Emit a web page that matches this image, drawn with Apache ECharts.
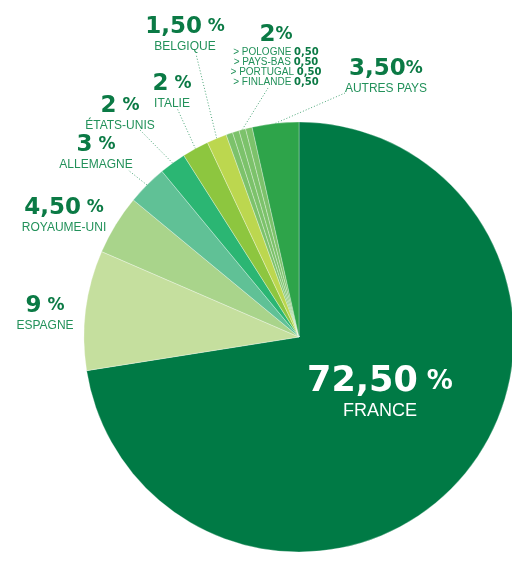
<!DOCTYPE html>
<html>
<head>
<meta charset="utf-8">
<script src="https://cdn.jsdelivr.net/npm/echarts@6/dist/echarts.min.js"></script>
<style>
  html, body { margin: 0; padding: 0; background: #fff; }
  #chart { width: 512px; height: 567px; }
</style>
</head>
<body>
<div id="chart"></div>
<script>
// données (en %)
const countries = ['FRANCE', 'ESPAGNE', 'ROYAUME-UNI', 'ALLEMAGNE', 'ÉTATS-UNIS', 'ITALIE', 'BELGIQUE',
  'POLOGNE', 'PAYS-BAS', 'PORTUGAL', 'FINLANDE', 'AUTRES PAYS'];
const shares = [72.5, 9, 4.5, 3, 2, 2, 1.5, 0.5, 0.5, 0.5, 0.5, 3.5];
const shareLabels = ['72,50', '9', '4,50', '3', '2', '2', '1,50', '0,50', '0,50', '0,50', '0,50', '3,50'];
const smallGroup = ['POLOGNE', 'PAYS-BAS', 'PORTUGAL', 'FINLANDE'];
const smallGroupTotal = '2';

const sliceColors = ['#007a45', '#c5df9e', '#a9d48b', '#60c196', '#2bb673', '#8dc63f', '#bcd74f',
  '#7cc26b', '#7cc26b', '#7cc26b', '#7cc26b', '#2ea44a'];

// placement des étiquettes (centre du bloc, fin du trait)
const labelSpots = {
  'FRANCE': { x: 380, y: 393 },
  'ESPAGNE': { x: 45, y: 314 },
  'ROYAUME-UNI': { x: 64, y: 216 },
  'ALLEMAGNE': { x: 96, y: 153, end: [128, 170] },
  'ÉTATS-UNIS': { x: 120, y: 114, end: [140, 130] },
  'ITALIE': { x: 172, y: 92, end: [177, 108] },
  'BELGIQUE': { x: 185, y: 35, end: [196, 54] },
  'PORTUGAL': { x: 276, y: 55, end: [268, 88] },
  'AUTRES PAYS': { x: 386, y: 77, end: [345, 93] }
};

const numFont = 'DejaVu Sans';
const nameFont = 'Liberation Sans';

function labelText(i) {
  const name = countries[i];
  if (name === 'FRANCE') {
    return '{bigNum|' + shareLabels[i] + '}{bigPct| %}\n{bigName|FRANCE}';
  }
  if (name === 'PORTUGAL') {
    const lines = smallGroup.map(function (n) {
      const k = countries.indexOf(n);
      return '{sm|> ' + n + ' }{smb|' + shareLabels[k] + '}';
    });
    return '{num|' + smallGroupTotal + '}{pct|%}\n' + lines.join('\n');
  }
  const gap = name === 'AUTRES PAYS' ? '' : ' ';
  return '{num|' + shareLabels[i] + '}{pct|' + gap + '%}\n{name|' + name + '}';
}

const data = countries.map(function (name, i) {
  const spot = labelSpots[name];
  return {
    name: name,
    value: shares[i],
    itemStyle: { color: sliceColors[i] },
    label: { show: !!spot },
    labelLine: { show: !!(spot && spot.end) }
  };
});

const option = {
  animation: false,
  series: [
    {
      type: 'pie',
      center: [299, 337],
      radius: [0, 215],
      startAngle: 90,
      clockwise: true,
      avoidLabelOverlap: false,
      itemStyle: { borderColor: 'rgba(255,255,255,0.6)', borderWidth: 0.5 },
      label: {
        formatter: function (p) { return labelText(p.dataIndex); },
        align: 'center',
        rich: {
          num: { fontFamily: numFont, fontWeight: 'bold', fontSize: 23, color: '#0b7a45', lineHeight: 24 },
          pct: { fontFamily: numFont, fontWeight: 'bold', fontSize: 17, color: '#0b7a45', lineHeight: 24 },
          name: { fontFamily: nameFont, fontSize: 12, color: '#22915a', lineHeight: 16 },
          sm: { fontFamily: nameFont, fontSize: 10, color: '#22915a', lineHeight: 10 },
          smb: { fontFamily: numFont, fontWeight: 'bold', fontSize: 10, color: '#0b7a45', lineHeight: 10 },
          bigNum: { fontFamily: numFont, fontWeight: 'bold', fontSize: 35, color: '#fff', lineHeight: 36 },
          bigPct: { fontFamily: numFont, fontWeight: 'bold', fontSize: 26, color: '#fff', lineHeight: 36 },
          bigName: { fontFamily: nameFont, fontSize: 18, color: '#fff', lineHeight: 22 }
        }
      },
      labelLine: {
        lineStyle: { color: '#4aa577', width: 1, type: [1, 2] },
        length: 10,
        length2: 10
      },
      labelLayout: function (params) {
        const spot = labelSpots[countries[params.dataIndex]];
        if (!spot) return {};
        const res = { x: spot.x, y: spot.y, align: 'center', verticalAlign: 'middle' };
        if (spot.end && params.labelLinePoints) {
          res.labelLinePoints = [params.labelLinePoints[0], spot.end];
        }
        return res;
      },
      data: data
    }
  ]
};

const myChart = echarts.init(document.getElementById('chart'));
myChart.setOption(option);
</script>
</body>
</html>
